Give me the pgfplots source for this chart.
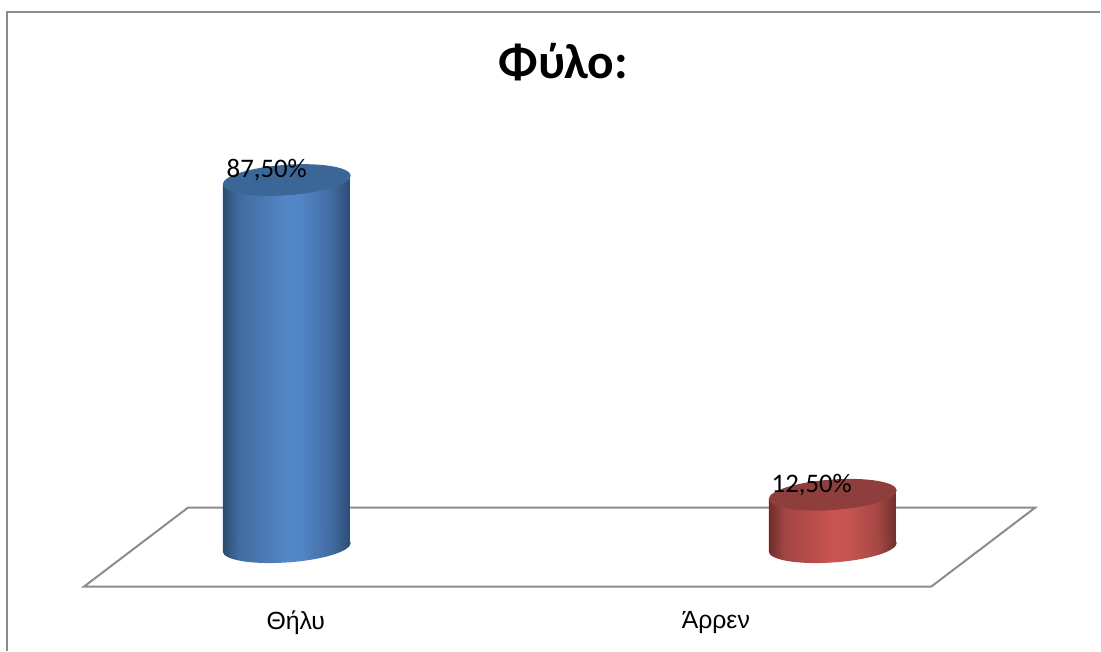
\documentclass[border=0pt]{standalone}
\usepackage{fontspec}
\setmainfont{Carlito}
\newfontfamily\axisfont{Liberation Sans}
\usepackage{pgfplots}
\pgfplotsset{compat=1.18}

\definecolor{framegray}{HTML}{8C8C8C}
\definecolor{capblue}{HTML}{3B6698}
\definecolor{capred}{HTML}{8E3F3D}

% cylinder sides; only 25bp to 75bp of a 100bp shading is seen on a path
\pgfdeclarehorizontalshading{bluecyl}{100bp}{
  rgb(0bp)=(0.17,0.29,0.44);
  rgb(25bp)=(0.17,0.29,0.44);
  rgb(31bp)=(0.25,0.42,0.62);
  rgb(50bp)=(0.33,0.53,0.78);
  rgb(56bp)=(0.32,0.52,0.77);
  rgb(67.5bp)=(0.25,0.42,0.63);
  rgb(75bp)=(0.17,0.29,0.45);
  rgb(100bp)=(0.17,0.29,0.45)}
\pgfdeclarehorizontalshading{redcyl}{100bp}{
  rgb(0bp)=(0.43,0.17,0.16);
  rgb(25bp)=(0.43,0.17,0.16);
  rgb(31bp)=(0.63,0.27,0.26);
  rgb(50bp)=(0.79,0.33,0.32);
  rgb(56bp)=(0.78,0.33,0.32);
  rgb(67.5bp)=(0.65,0.28,0.27);
  rgb(75bp)=(0.43,0.18,0.17);
  rgb(100bp)=(0.43,0.18,0.17)}
% cylinder ends, tilted a little
\newcommand{\cylpath}{\pgfpathellipse{\pgfpointorigin}{\pgfqpoint{32pt}{2.25pt}}{\pgfqpoint{-0.55pt}{7.6pt}}}
\pgfdeclareplotmark{bluecap}{\cylpath\pgfsetfillcolor{capblue}\pgfusepathqfill}
\pgfdeclareplotmark{redcap}{\cylpath\pgfsetfillcolor{capred}\pgfusepathqfill}
\pgfdeclareplotmark{bluefoot}{\cylpath\pgfshadepath{bluecyl}{0}\pgfusepath{discard}}
\pgfdeclareplotmark{redfoot}{\cylpath\pgfshadepath{redcyl}{0}\pgfusepath{discard}}

\begin{document}
\begin{tikzpicture}
\begin{axis}[
    scale only axis,
    width=550.5pt,
    height=325.5pt,
    xmin=-0.52516, xmax=1.48948,
    ymin=-24.64, ymax=130.36,
    clip=false,
    axis line style={draw=none},
    major tick length=0pt,
    ytick=\empty,
    xtick={0.01647,0.7859},
    xticklabels={Θήλυ,Άρρεν},
    xticklabel style={anchor=center, yshift=14pt, font=\axisfont\fontsize{12.4}{15}\selectfont},
    title={Φύλο:},
    title style={at={(0.512,0.886)}, anchor=center, font=\fontsize{24.7}{28}\selectfont\bfseries},
    /pgf/number format/assume math mode=true,
]
% chart frame and floor
\draw[framegray, line width=1pt] (rel axis cs:0.00636,0) -- (rel axis cs:0.00636,0.98157) -- (rel axis cs:1,0.98157);
\draw[framegray, line width=1pt] (rel axis cs:0.07629,0.09831) -- (rel axis cs:0.17075,0.21966) -- (rel axis cs:0.94096,0.21966) -- (rel axis cs:0.84650,0.09831) -- cycle;

% Thelu 87.5
\addplot[only marks, mark=bluefoot] coordinates {(0,0)};
\addplot[draw=none, shading=bluecyl] coordinates {(-0.11711,-1.1) (0.11711,1.1) (0.11711,88.6) (-0.11711,86.4)} -- cycle;
\addplot[only marks, mark=bluecap,
    nodes near coords={\pgfmathprintnumber[fixed,fixed zerofill,precision=2,use comma]{\pgfplotspointmeta}\%},
    every node near coord/.append style={anchor=center, xshift=-10pt, yshift=4.75pt, font=\fontsize{13.4}{15}\selectfont, text=black},
] coordinates {(0,87.5)};

% Arren 12.5
\addplot[only marks, mark=redfoot] coordinates {(1,0)};
\addplot[draw=none, shading=redcyl] coordinates {(0.88289,-1.1) (1.11711,1.1) (1.11711,13.6) (0.88289,11.4)} -- cycle;
\addplot[only marks, mark=redcap,
    nodes near coords={\pgfmathprintnumber[fixed,fixed zerofill,precision=2,use comma]{\pgfplotspointmeta}\%},
    every node near coord/.append style={anchor=center, xshift=-10.5pt, yshift=4.75pt, font=\fontsize{13.4}{15}\selectfont, text=black},
] coordinates {(1,12.5)};
\end{axis}
\end{tikzpicture}
\end{document}
